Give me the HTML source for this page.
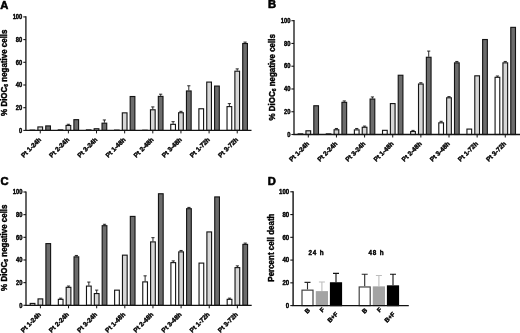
<!DOCTYPE html>
<html><head><meta charset="utf-8"><title>Figure</title>
<style>
html,body{margin:0;padding:0;background:#fff;}
body{width:520px;height:333px;overflow:hidden;}
svg{display:block;filter:blur(0.5px);font-family:"Liberation Sans",sans-serif;fill:#000;}
text{stroke:#000;stroke-width:0.4px;stroke-linejoin:round;}
</style></head><body>
<svg width="520" height="333" viewBox="0 0 520 333">
<rect width="520" height="333" fill="#fff"/>
<text x="0.2" y="8.7" font-size="11.2" font-weight="bold" style="stroke-width:0.6px">A</text>
<rect x="29.55" y="129.55" width="5.7" height="0.85" fill="#141414"/>
<rect x="37.90" y="126.93" width="4.7" height="3.47" fill="#d6d6d6" stroke="#141414" stroke-width="1.12"/>
<rect x="45.75" y="125.91" width="4.7" height="4.49" fill="#6c6c6c" stroke="#141414" stroke-width="1.12"/>
<path d="M40.25 130.4V133.40" stroke="#141414" stroke-width="1"/>
<text transform="translate(41.60 140.10) rotate(-45)" text-anchor="end" font-size="6.5" font-weight="bold">Pt 1-24h</text>
<rect x="57.69" y="129.32" width="5.7" height="1.08" fill="#141414"/>
<path d="M68.39 124.95V124.27M66.79 124.27H69.99" stroke="#141414" stroke-width="0.9" fill="none"/>
<rect x="66.04" y="125.45" width="4.7" height="4.95" fill="#d6d6d6" stroke="#141414" stroke-width="1.12"/>
<rect x="73.89" y="119.66" width="4.7" height="10.74" fill="#6c6c6c" stroke="#141414" stroke-width="1.12"/>
<path d="M68.39 130.4V133.40" stroke="#141414" stroke-width="1"/>
<text transform="translate(69.74 140.10) rotate(-45)" text-anchor="end" font-size="6.5" font-weight="bold">Pt 2-24h</text>
<rect x="85.83" y="129.32" width="5.7" height="1.08" fill="#141414"/>
<rect x="94.18" y="128.74" width="4.7" height="1.66" fill="#d6d6d6" stroke="#141414" stroke-width="1.12"/>
<path d="M104.38 122.68V119.96M102.78 119.96H105.98" stroke="#141414" stroke-width="0.9" fill="none"/>
<rect x="102.03" y="123.18" width="4.7" height="7.22" fill="#6c6c6c" stroke="#141414" stroke-width="1.12"/>
<path d="M96.53 130.4V133.40" stroke="#141414" stroke-width="1"/>
<text transform="translate(97.88 140.10) rotate(-45)" text-anchor="end" font-size="6.5" font-weight="bold">Pt 3-24h</text>
<rect x="113.97" y="129.55" width="5.7" height="0.85" fill="#141414"/>
<rect x="122.32" y="112.85" width="4.7" height="17.55" fill="#d6d6d6" stroke="#141414" stroke-width="1.12"/>
<rect x="130.17" y="96.51" width="4.7" height="33.89" fill="#6c6c6c" stroke="#141414" stroke-width="1.12"/>
<path d="M124.67 130.4V133.40" stroke="#141414" stroke-width="1"/>
<text transform="translate(126.02 140.10) rotate(-45)" text-anchor="end" font-size="6.5" font-weight="bold">Pt 1-48h</text>
<rect x="142.11" y="129.66" width="5.7" height="0.74" fill="#141414"/>
<path d="M152.81 109.29V106.91M151.21 106.91H154.41" stroke="#141414" stroke-width="0.9" fill="none"/>
<rect x="150.46" y="109.79" width="4.7" height="20.61" fill="#d6d6d6" stroke="#141414" stroke-width="1.12"/>
<path d="M160.66 95.90V94.19M159.06 94.19H162.26" stroke="#141414" stroke-width="0.9" fill="none"/>
<rect x="158.31" y="96.40" width="4.7" height="34.00" fill="#6c6c6c" stroke="#141414" stroke-width="1.12"/>
<path d="M152.81 130.4V133.40" stroke="#141414" stroke-width="1"/>
<text transform="translate(154.16 140.10) rotate(-45)" text-anchor="end" font-size="6.5" font-weight="bold">Pt 2-48h</text>
<path d="M173.10 123.82V121.66M171.50 121.66H174.70" stroke="#141414" stroke-width="0.9" fill="none"/>
<rect x="170.75" y="124.32" width="4.7" height="6.08" fill="#ffffff" stroke="#141414" stroke-width="1.12"/>
<path d="M180.95 112.24V111.33M179.35 111.33H182.55" stroke="#141414" stroke-width="0.9" fill="none"/>
<rect x="178.60" y="112.74" width="4.7" height="17.66" fill="#d6d6d6" stroke="#141414" stroke-width="1.12"/>
<path d="M188.80 90.45V85.79M187.20 85.79H190.40" stroke="#141414" stroke-width="0.9" fill="none"/>
<rect x="186.45" y="90.95" width="4.7" height="39.45" fill="#6c6c6c" stroke="#141414" stroke-width="1.12"/>
<path d="M180.95 130.4V133.40" stroke="#141414" stroke-width="1"/>
<text transform="translate(182.30 140.10) rotate(-45)" text-anchor="end" font-size="6.5" font-weight="bold">Pt 3-48h</text>
<rect x="198.89" y="108.77" width="4.7" height="21.63" fill="#ffffff" stroke="#141414" stroke-width="1.12"/>
<rect x="206.74" y="82.09" width="4.7" height="48.30" fill="#d6d6d6" stroke="#141414" stroke-width="1.12"/>
<rect x="214.59" y="86.07" width="4.7" height="44.33" fill="#6c6c6c" stroke="#141414" stroke-width="1.12"/>
<path d="M209.09 130.4V133.40" stroke="#141414" stroke-width="1"/>
<text transform="translate(210.44 140.10) rotate(-45)" text-anchor="end" font-size="6.5" font-weight="bold">Pt 1-72h</text>
<path d="M229.38 106.11V103.61M227.78 103.61H230.98" stroke="#141414" stroke-width="0.9" fill="none"/>
<rect x="227.03" y="106.61" width="4.7" height="23.79" fill="#ffffff" stroke="#141414" stroke-width="1.12"/>
<path d="M237.23 70.70V68.88M235.63 68.88H238.83" stroke="#141414" stroke-width="0.9" fill="none"/>
<rect x="234.88" y="71.20" width="4.7" height="59.20" fill="#d6d6d6" stroke="#141414" stroke-width="1.12"/>
<path d="M245.08 43.01V42.10M243.48 42.10H246.68" stroke="#141414" stroke-width="0.9" fill="none"/>
<rect x="242.73" y="43.51" width="4.7" height="86.89" fill="#6c6c6c" stroke="#141414" stroke-width="1.12"/>
<path d="M237.23 130.4V133.40" stroke="#141414" stroke-width="1"/>
<text transform="translate(238.58 140.10) rotate(-45)" text-anchor="end" font-size="6.5" font-weight="bold">Pt 3-72h</text>
<path d="M25.9 16.299999999999997V130.4H251.5" stroke="#141414" stroke-width="1.3" fill="none"/>
<path d="M23.299999999999997 130.40H25.9" stroke="#141414" stroke-width="1.1"/>
<text transform="translate(22.30 132.65) scale(0.92 1)" text-anchor="end" font-size="6.3" font-weight="bold">0</text>
<path d="M23.299999999999997 107.70H25.9" stroke="#141414" stroke-width="1.1"/>
<text transform="translate(22.30 109.95) scale(0.92 1)" text-anchor="end" font-size="6.3" font-weight="bold">20</text>
<path d="M23.299999999999997 85.00H25.9" stroke="#141414" stroke-width="1.1"/>
<text transform="translate(22.30 87.25) scale(0.92 1)" text-anchor="end" font-size="6.3" font-weight="bold">40</text>
<path d="M23.299999999999997 62.30H25.9" stroke="#141414" stroke-width="1.1"/>
<text transform="translate(22.30 64.55) scale(0.92 1)" text-anchor="end" font-size="6.3" font-weight="bold">60</text>
<path d="M23.299999999999997 39.60H25.9" stroke="#141414" stroke-width="1.1"/>
<text transform="translate(22.30 41.85) scale(0.92 1)" text-anchor="end" font-size="6.3" font-weight="bold">80</text>
<path d="M23.299999999999997 16.90H25.9" stroke="#141414" stroke-width="1.1"/>
<text transform="translate(22.30 19.15) scale(0.92 1)" text-anchor="end" font-size="6.3" font-weight="bold">100</text>
<text transform="translate(6.6 72.7) rotate(-90) scale(0.96 1)" text-anchor="middle" font-size="8.3" font-weight="bold">% DiOC<tspan font-size="5.2" dy="1.5">6</tspan><tspan dy="-1.5"> negative cells</tspan></text>
<text x="268" y="8.4" font-size="11.2" font-weight="bold" style="stroke-width:0.6px">B</text>
<rect x="297.60" y="133.30" width="5.7" height="1.20" fill="#141414"/>
<rect x="305.95" y="130.79" width="4.7" height="3.71" fill="#d6d6d6" stroke="#141414" stroke-width="1.12"/>
<rect x="313.80" y="105.75" width="4.7" height="28.75" fill="#6c6c6c" stroke="#141414" stroke-width="1.12"/>
<path d="M308.30 134.5V137.50" stroke="#141414" stroke-width="1"/>
<text transform="translate(309.65 144.20) rotate(-45)" text-anchor="end" font-size="6.5" font-weight="bold">Pt 1-24h</text>
<rect x="325.74" y="133.30" width="5.7" height="1.20" fill="#141414"/>
<path d="M336.44 129.27V128.47M334.84 128.47H338.04" stroke="#141414" stroke-width="0.9" fill="none"/>
<rect x="334.09" y="129.77" width="4.7" height="4.73" fill="#d6d6d6" stroke="#141414" stroke-width="1.12"/>
<path d="M344.29 101.84V100.93M342.69 100.93H345.89" stroke="#141414" stroke-width="0.9" fill="none"/>
<rect x="341.94" y="102.34" width="4.7" height="32.16" fill="#6c6c6c" stroke="#141414" stroke-width="1.12"/>
<path d="M336.44 134.5V137.50" stroke="#141414" stroke-width="1"/>
<text transform="translate(337.79 144.20) rotate(-45)" text-anchor="end" font-size="6.5" font-weight="bold">Pt 2-24h</text>
<path d="M356.73 129.38V128.47M355.13 128.47H358.33" stroke="#141414" stroke-width="0.9" fill="none"/>
<rect x="354.38" y="129.88" width="4.7" height="4.62" fill="#ffffff" stroke="#141414" stroke-width="1.12"/>
<path d="M364.58 126.76V126.08M362.98 126.08H366.18" stroke="#141414" stroke-width="0.9" fill="none"/>
<rect x="362.23" y="127.26" width="4.7" height="7.24" fill="#d6d6d6" stroke="#141414" stroke-width="1.12"/>
<path d="M372.43 98.54V96.95M370.83 96.95H374.03" stroke="#141414" stroke-width="0.9" fill="none"/>
<rect x="370.08" y="99.04" width="4.7" height="35.46" fill="#6c6c6c" stroke="#141414" stroke-width="1.12"/>
<path d="M364.58 134.5V137.50" stroke="#141414" stroke-width="1"/>
<text transform="translate(365.93 144.20) rotate(-45)" text-anchor="end" font-size="6.5" font-weight="bold">Pt 3-24h</text>
<rect x="382.52" y="130.33" width="4.7" height="4.17" fill="#ffffff" stroke="#141414" stroke-width="1.12"/>
<rect x="390.37" y="103.59" width="4.7" height="30.91" fill="#d6d6d6" stroke="#141414" stroke-width="1.12"/>
<rect x="398.22" y="75.25" width="4.7" height="59.24" fill="#6c6c6c" stroke="#141414" stroke-width="1.12"/>
<path d="M392.72 134.5V137.50" stroke="#141414" stroke-width="1"/>
<text transform="translate(394.07 144.20) rotate(-45)" text-anchor="end" font-size="6.5" font-weight="bold">Pt 1-48h</text>
<path d="M413.01 131.09V130.40M411.41 130.40H414.61" stroke="#141414" stroke-width="0.9" fill="none"/>
<rect x="410.66" y="131.59" width="4.7" height="2.91" fill="#ffffff" stroke="#141414" stroke-width="1.12"/>
<path d="M420.86 83.52V82.72M419.26 82.72H422.46" stroke="#141414" stroke-width="0.9" fill="none"/>
<rect x="418.51" y="84.02" width="4.7" height="50.48" fill="#d6d6d6" stroke="#141414" stroke-width="1.12"/>
<path d="M428.71 56.77V51.08M427.11 51.08H430.31" stroke="#141414" stroke-width="0.9" fill="none"/>
<rect x="426.36" y="57.27" width="4.7" height="77.23" fill="#6c6c6c" stroke="#141414" stroke-width="1.12"/>
<path d="M420.86 134.5V137.50" stroke="#141414" stroke-width="1"/>
<text transform="translate(422.21 144.20) rotate(-45)" text-anchor="end" font-size="6.5" font-weight="bold">Pt 2-48h</text>
<path d="M441.15 122.32V121.30M439.55 121.30H442.75" stroke="#141414" stroke-width="0.9" fill="none"/>
<rect x="438.80" y="122.82" width="4.7" height="11.68" fill="#ffffff" stroke="#141414" stroke-width="1.12"/>
<path d="M449.00 97.29V96.60M447.40 96.60H450.60" stroke="#141414" stroke-width="0.9" fill="none"/>
<rect x="446.65" y="97.79" width="4.7" height="36.71" fill="#d6d6d6" stroke="#141414" stroke-width="1.12"/>
<path d="M456.85 62.35V61.44M455.25 61.44H458.45" stroke="#141414" stroke-width="0.9" fill="none"/>
<rect x="454.50" y="62.85" width="4.7" height="71.65" fill="#6c6c6c" stroke="#141414" stroke-width="1.12"/>
<path d="M449.00 134.5V137.50" stroke="#141414" stroke-width="1"/>
<text transform="translate(450.35 144.20) rotate(-45)" text-anchor="end" font-size="6.5" font-weight="bold">Pt 3-48h</text>
<rect x="466.94" y="129.08" width="4.7" height="5.42" fill="#ffffff" stroke="#141414" stroke-width="1.12"/>
<rect x="474.79" y="75.82" width="4.7" height="58.68" fill="#d6d6d6" stroke="#141414" stroke-width="1.12"/>
<rect x="482.64" y="39.52" width="4.7" height="94.98" fill="#6c6c6c" stroke="#141414" stroke-width="1.12"/>
<path d="M477.14 134.5V137.50" stroke="#141414" stroke-width="1"/>
<text transform="translate(478.49 144.20) rotate(-45)" text-anchor="end" font-size="6.5" font-weight="bold">Pt 1-72h</text>
<path d="M497.43 76.80V76.01M495.83 76.01H499.03" stroke="#141414" stroke-width="0.9" fill="none"/>
<rect x="495.08" y="77.30" width="4.7" height="57.20" fill="#ffffff" stroke="#141414" stroke-width="1.12"/>
<path d="M505.28 62.35V61.44M503.68 61.44H506.88" stroke="#141414" stroke-width="0.9" fill="none"/>
<rect x="502.93" y="62.85" width="4.7" height="71.65" fill="#d6d6d6" stroke="#141414" stroke-width="1.12"/>
<rect x="510.78" y="27.35" width="4.7" height="107.15" fill="#6c6c6c" stroke="#141414" stroke-width="1.12"/>
<path d="M505.28 134.5V137.50" stroke="#141414" stroke-width="1"/>
<text transform="translate(506.63 144.20) rotate(-45)" text-anchor="end" font-size="6.5" font-weight="bold">Pt 3-72h</text>
<path d="M294.0 20.099999999999998V134.5H520" stroke="#141414" stroke-width="1.3" fill="none"/>
<path d="M291.4 134.50H294.0" stroke="#141414" stroke-width="1.1"/>
<text transform="translate(290.40 136.75) scale(0.92 1)" text-anchor="end" font-size="6.3" font-weight="bold">0</text>
<path d="M291.4 111.74H294.0" stroke="#141414" stroke-width="1.1"/>
<text transform="translate(290.40 113.99) scale(0.92 1)" text-anchor="end" font-size="6.3" font-weight="bold">20</text>
<path d="M291.4 88.98H294.0" stroke="#141414" stroke-width="1.1"/>
<text transform="translate(290.40 91.23) scale(0.92 1)" text-anchor="end" font-size="6.3" font-weight="bold">40</text>
<path d="M291.4 66.22H294.0" stroke="#141414" stroke-width="1.1"/>
<text transform="translate(290.40 68.47) scale(0.92 1)" text-anchor="end" font-size="6.3" font-weight="bold">60</text>
<path d="M291.4 43.46H294.0" stroke="#141414" stroke-width="1.1"/>
<text transform="translate(290.40 45.71) scale(0.92 1)" text-anchor="end" font-size="6.3" font-weight="bold">80</text>
<path d="M291.4 20.70H294.0" stroke="#141414" stroke-width="1.1"/>
<text transform="translate(290.40 22.95) scale(0.92 1)" text-anchor="end" font-size="6.3" font-weight="bold">100</text>
<text transform="translate(274.6 77.3) rotate(-90) scale(0.96 1)" text-anchor="middle" font-size="8.3" font-weight="bold">% DiOC<tspan font-size="5.2" dy="1.5">6</tspan><tspan dy="-1.5"> negative cells</tspan></text>
<text x="0.4" y="185.2" font-size="11.2" font-weight="bold" style="stroke-width:0.6px">C</text>
<rect x="30.20" y="303.42" width="4.7" height="1.88" fill="#ffffff" stroke="#141414" stroke-width="1.12"/>
<rect x="38.05" y="298.89" width="4.7" height="6.41" fill="#d6d6d6" stroke="#141414" stroke-width="1.12"/>
<rect x="45.90" y="243.60" width="4.7" height="61.70" fill="#6c6c6c" stroke="#141414" stroke-width="1.12"/>
<path d="M40.40 305.3V308.30" stroke="#141414" stroke-width="1"/>
<text transform="translate(41.30 315.00) rotate(-45)" text-anchor="end" font-size="6.5" font-weight="bold">Pt 1-24h</text>
<path d="M60.69 298.84V298.16M59.09 298.16H62.29" stroke="#141414" stroke-width="0.9" fill="none"/>
<rect x="58.34" y="299.34" width="4.7" height="5.96" fill="#ffffff" stroke="#141414" stroke-width="1.12"/>
<path d="M68.54 286.83V286.04M66.94 286.04H70.14" stroke="#141414" stroke-width="0.9" fill="none"/>
<rect x="66.19" y="287.33" width="4.7" height="17.97" fill="#d6d6d6" stroke="#141414" stroke-width="1.12"/>
<path d="M76.39 256.35V255.45M74.79 255.45H77.99" stroke="#141414" stroke-width="0.9" fill="none"/>
<rect x="74.04" y="256.85" width="4.7" height="48.45" fill="#6c6c6c" stroke="#141414" stroke-width="1.12"/>
<path d="M68.54 305.3V308.30" stroke="#141414" stroke-width="1"/>
<text transform="translate(69.44 315.00) rotate(-45)" text-anchor="end" font-size="6.5" font-weight="bold">Pt 2-24h</text>
<path d="M88.83 285.59V282.07M87.23 282.07H90.43" stroke="#141414" stroke-width="0.9" fill="none"/>
<rect x="86.48" y="286.09" width="4.7" height="19.21" fill="#ffffff" stroke="#141414" stroke-width="1.12"/>
<path d="M96.68 293.06V290.12M95.08 290.12H98.28" stroke="#141414" stroke-width="0.9" fill="none"/>
<rect x="94.33" y="293.56" width="4.7" height="11.74" fill="#d6d6d6" stroke="#141414" stroke-width="1.12"/>
<path d="M104.53 225.20V224.29M102.93 224.29H106.13" stroke="#141414" stroke-width="0.9" fill="none"/>
<rect x="102.18" y="225.70" width="4.7" height="79.60" fill="#6c6c6c" stroke="#141414" stroke-width="1.12"/>
<path d="M96.68 305.3V308.30" stroke="#141414" stroke-width="1"/>
<text transform="translate(97.58 315.00) rotate(-45)" text-anchor="end" font-size="6.5" font-weight="bold">Pt 3-24h</text>
<rect x="114.62" y="290.16" width="4.7" height="15.14" fill="#ffffff" stroke="#141414" stroke-width="1.12"/>
<rect x="122.47" y="255.15" width="4.7" height="50.15" fill="#d6d6d6" stroke="#141414" stroke-width="1.12"/>
<rect x="130.32" y="216.41" width="4.7" height="88.89" fill="#6c6c6c" stroke="#141414" stroke-width="1.12"/>
<path d="M124.82 305.3V308.30" stroke="#141414" stroke-width="1"/>
<text transform="translate(125.72 315.00) rotate(-45)" text-anchor="end" font-size="6.5" font-weight="bold">Pt 1-48h</text>
<path d="M145.11 281.39V275.84M143.51 275.84H146.71" stroke="#141414" stroke-width="0.9" fill="none"/>
<rect x="142.76" y="281.89" width="4.7" height="23.41" fill="#ffffff" stroke="#141414" stroke-width="1.12"/>
<path d="M152.96 241.40V237.66M151.36 237.66H154.56" stroke="#141414" stroke-width="0.9" fill="none"/>
<rect x="150.61" y="241.90" width="4.7" height="63.40" fill="#d6d6d6" stroke="#141414" stroke-width="1.12"/>
<rect x="158.46" y="193.75" width="4.7" height="111.55" fill="#6c6c6c" stroke="#141414" stroke-width="1.12"/>
<path d="M152.96 305.3V308.30" stroke="#141414" stroke-width="1"/>
<text transform="translate(153.86 315.00) rotate(-45)" text-anchor="end" font-size="6.5" font-weight="bold">Pt 2-48h</text>
<path d="M173.25 262.13V260.89M171.65 260.89H174.85" stroke="#141414" stroke-width="0.9" fill="none"/>
<rect x="170.90" y="262.63" width="4.7" height="42.67" fill="#ffffff" stroke="#141414" stroke-width="1.12"/>
<path d="M181.10 251.37V250.46M179.50 250.46H182.70" stroke="#141414" stroke-width="0.9" fill="none"/>
<rect x="178.75" y="251.87" width="4.7" height="53.43" fill="#d6d6d6" stroke="#141414" stroke-width="1.12"/>
<path d="M188.95 208.20V207.41M187.35 207.41H190.55" stroke="#141414" stroke-width="0.9" fill="none"/>
<rect x="186.60" y="208.70" width="4.7" height="96.60" fill="#6c6c6c" stroke="#141414" stroke-width="1.12"/>
<path d="M181.10 305.3V308.30" stroke="#141414" stroke-width="1"/>
<text transform="translate(182.00 315.00) rotate(-45)" text-anchor="end" font-size="6.5" font-weight="bold">Pt 3-48h</text>
<rect x="199.04" y="263.09" width="4.7" height="42.21" fill="#ffffff" stroke="#141414" stroke-width="1.12"/>
<rect x="206.89" y="231.93" width="4.7" height="73.37" fill="#d6d6d6" stroke="#141414" stroke-width="1.12"/>
<rect x="214.74" y="196.92" width="4.7" height="108.38" fill="#6c6c6c" stroke="#141414" stroke-width="1.12"/>
<path d="M209.24 305.3V308.30" stroke="#141414" stroke-width="1"/>
<text transform="translate(210.14 315.00) rotate(-45)" text-anchor="end" font-size="6.5" font-weight="bold">Pt 1-72h</text>
<path d="M229.53 298.84V298.16M227.93 298.16H231.13" stroke="#141414" stroke-width="0.9" fill="none"/>
<rect x="227.18" y="299.34" width="4.7" height="5.96" fill="#ffffff" stroke="#141414" stroke-width="1.12"/>
<path d="M237.38 267.12V265.87M235.78 265.87H238.98" stroke="#141414" stroke-width="0.9" fill="none"/>
<rect x="235.03" y="267.62" width="4.7" height="37.68" fill="#d6d6d6" stroke="#141414" stroke-width="1.12"/>
<path d="M245.23 243.89V243.10M243.63 243.10H246.83" stroke="#141414" stroke-width="0.9" fill="none"/>
<rect x="242.88" y="244.39" width="4.7" height="60.91" fill="#6c6c6c" stroke="#141414" stroke-width="1.12"/>
<path d="M237.38 305.3V308.30" stroke="#141414" stroke-width="1"/>
<text transform="translate(238.28 315.00) rotate(-45)" text-anchor="end" font-size="6.5" font-weight="bold">Pt 3-72h</text>
<path d="M26.0 191.4V305.3H251.7" stroke="#141414" stroke-width="1.3" fill="none"/>
<path d="M23.4 305.30H26.0" stroke="#141414" stroke-width="1.1"/>
<text transform="translate(22.40 307.55) scale(0.92 1)" text-anchor="end" font-size="6.3" font-weight="bold">0</text>
<path d="M23.4 282.64H26.0" stroke="#141414" stroke-width="1.1"/>
<text transform="translate(22.40 284.89) scale(0.92 1)" text-anchor="end" font-size="6.3" font-weight="bold">20</text>
<path d="M23.4 259.98H26.0" stroke="#141414" stroke-width="1.1"/>
<text transform="translate(22.40 262.23) scale(0.92 1)" text-anchor="end" font-size="6.3" font-weight="bold">40</text>
<path d="M23.4 237.32H26.0" stroke="#141414" stroke-width="1.1"/>
<text transform="translate(22.40 239.57) scale(0.92 1)" text-anchor="end" font-size="6.3" font-weight="bold">60</text>
<path d="M23.4 214.66H26.0" stroke="#141414" stroke-width="1.1"/>
<text transform="translate(22.40 216.91) scale(0.92 1)" text-anchor="end" font-size="6.3" font-weight="bold">80</text>
<path d="M23.4 192.00H26.0" stroke="#141414" stroke-width="1.1"/>
<text transform="translate(22.40 194.25) scale(0.92 1)" text-anchor="end" font-size="6.3" font-weight="bold">100</text>
<text transform="translate(6.7 247.7) rotate(-90) scale(0.96 1)" text-anchor="middle" font-size="8.3" font-weight="bold">% DiOC<tspan font-size="5.2" dy="1.5">6</tspan><tspan dy="-1.5"> negative cells</tspan></text>
<text x="267.8" y="185.4" font-size="11.2" font-weight="bold" style="stroke-width:0.6px">D</text>
<path d="M307.50 289.55V282.38M304.50 282.38H310.50" stroke="#2a2a2a" stroke-width="1.1" fill="none"/>
<rect x="302.00" y="290.15" width="11.00" height="15.45" fill="#ffffff" stroke="#444444" stroke-width="1.2"/>
<path d="M321.90 291.15V281.93M318.90 281.93H324.90" stroke="#bdbdbd" stroke-width="1.1" fill="none"/>
<rect x="316.40" y="291.75" width="11.00" height="13.85" fill="#a3a3a3" stroke="#a3a3a3" stroke-width="1.2"/>
<path d="M336.00 282.27V273.39M333.00 273.39H339.00" stroke="#111111" stroke-width="1.1" fill="none"/>
<rect x="330.50" y="282.87" width="11.00" height="22.73" fill="#000000" stroke="#000000" stroke-width="1.2"/>
<path d="M364.70 286.37V274.31M361.70 274.31H367.70" stroke="#2a2a2a" stroke-width="1.1" fill="none"/>
<rect x="359.20" y="286.97" width="11.00" height="18.63" fill="#ffffff" stroke="#444444" stroke-width="1.2"/>
<path d="M378.90 286.37V275.44M375.90 275.44H381.90" stroke="#bdbdbd" stroke-width="1.1" fill="none"/>
<rect x="373.40" y="286.97" width="11.00" height="18.63" fill="#a3a3a3" stroke="#a3a3a3" stroke-width="1.2"/>
<path d="M393.00 285.34V274.31M390.00 274.31H396.00" stroke="#111111" stroke-width="1.1" fill="none"/>
<rect x="387.50" y="285.94" width="11.00" height="19.66" fill="#000000" stroke="#000000" stroke-width="1.2"/>
<path d="M293.1 191.20000000000002V305.6H408.8" stroke="#111" stroke-width="1.4" fill="none"/>
<path d="M290.3 305.60H293.1" stroke="#111" stroke-width="1.1"/>
<text transform="translate(289.20 307.85) scale(0.95 1)" text-anchor="end" font-size="6.4" font-weight="bold">0</text>
<path d="M290.3 282.84H293.1" stroke="#111" stroke-width="1.1"/>
<text transform="translate(289.20 285.09) scale(0.95 1)" text-anchor="end" font-size="6.4" font-weight="bold">20</text>
<path d="M290.3 260.08H293.1" stroke="#111" stroke-width="1.1"/>
<text transform="translate(289.20 262.33) scale(0.95 1)" text-anchor="end" font-size="6.4" font-weight="bold">40</text>
<path d="M290.3 237.32H293.1" stroke="#111" stroke-width="1.1"/>
<text transform="translate(289.20 239.57) scale(0.95 1)" text-anchor="end" font-size="6.4" font-weight="bold">60</text>
<path d="M290.3 214.56H293.1" stroke="#111" stroke-width="1.1"/>
<text transform="translate(289.20 216.81) scale(0.95 1)" text-anchor="end" font-size="6.4" font-weight="bold">80</text>
<path d="M290.3 191.80H293.1" stroke="#111" stroke-width="1.1"/>
<text transform="translate(289.20 194.05) scale(0.95 1)" text-anchor="end" font-size="6.4" font-weight="bold">100</text>
<text transform="translate(273.8 247.6) rotate(-90) scale(0.96 1)" text-anchor="middle" font-size="8.3" font-weight="bold">Percent cell death</text>
<text x="316.5" y="255.3" text-anchor="middle" font-size="6.3" font-weight="bold" letter-spacing="0.9">24 h</text>
<text x="376.5" y="255.3" text-anchor="middle" font-size="6.3" font-weight="bold" letter-spacing="0.9">48 h</text>
<text transform="translate(307.2 310.8) rotate(-45)" text-anchor="middle" font-size="6.3" font-weight="bold" dy="2.2">B</text>
<text transform="translate(322.1 309.8) rotate(-45)" text-anchor="middle" font-size="6.3" font-weight="bold" dy="2.2">F</text>
<text transform="translate(332.6 317.2) rotate(-45)" text-anchor="middle" font-size="6.3" font-weight="bold" dy="2.2">B+F</text>
<text transform="translate(364.5 310.8) rotate(-45)" text-anchor="middle" font-size="6.3" font-weight="bold" dy="2.2">B</text>
<text transform="translate(379.2 309.8) rotate(-45)" text-anchor="middle" font-size="6.3" font-weight="bold" dy="2.2">F</text>
<text transform="translate(389.7 317.2) rotate(-45)" text-anchor="middle" font-size="6.3" font-weight="bold" dy="2.2">B+F</text>
</svg>
</body></html>
